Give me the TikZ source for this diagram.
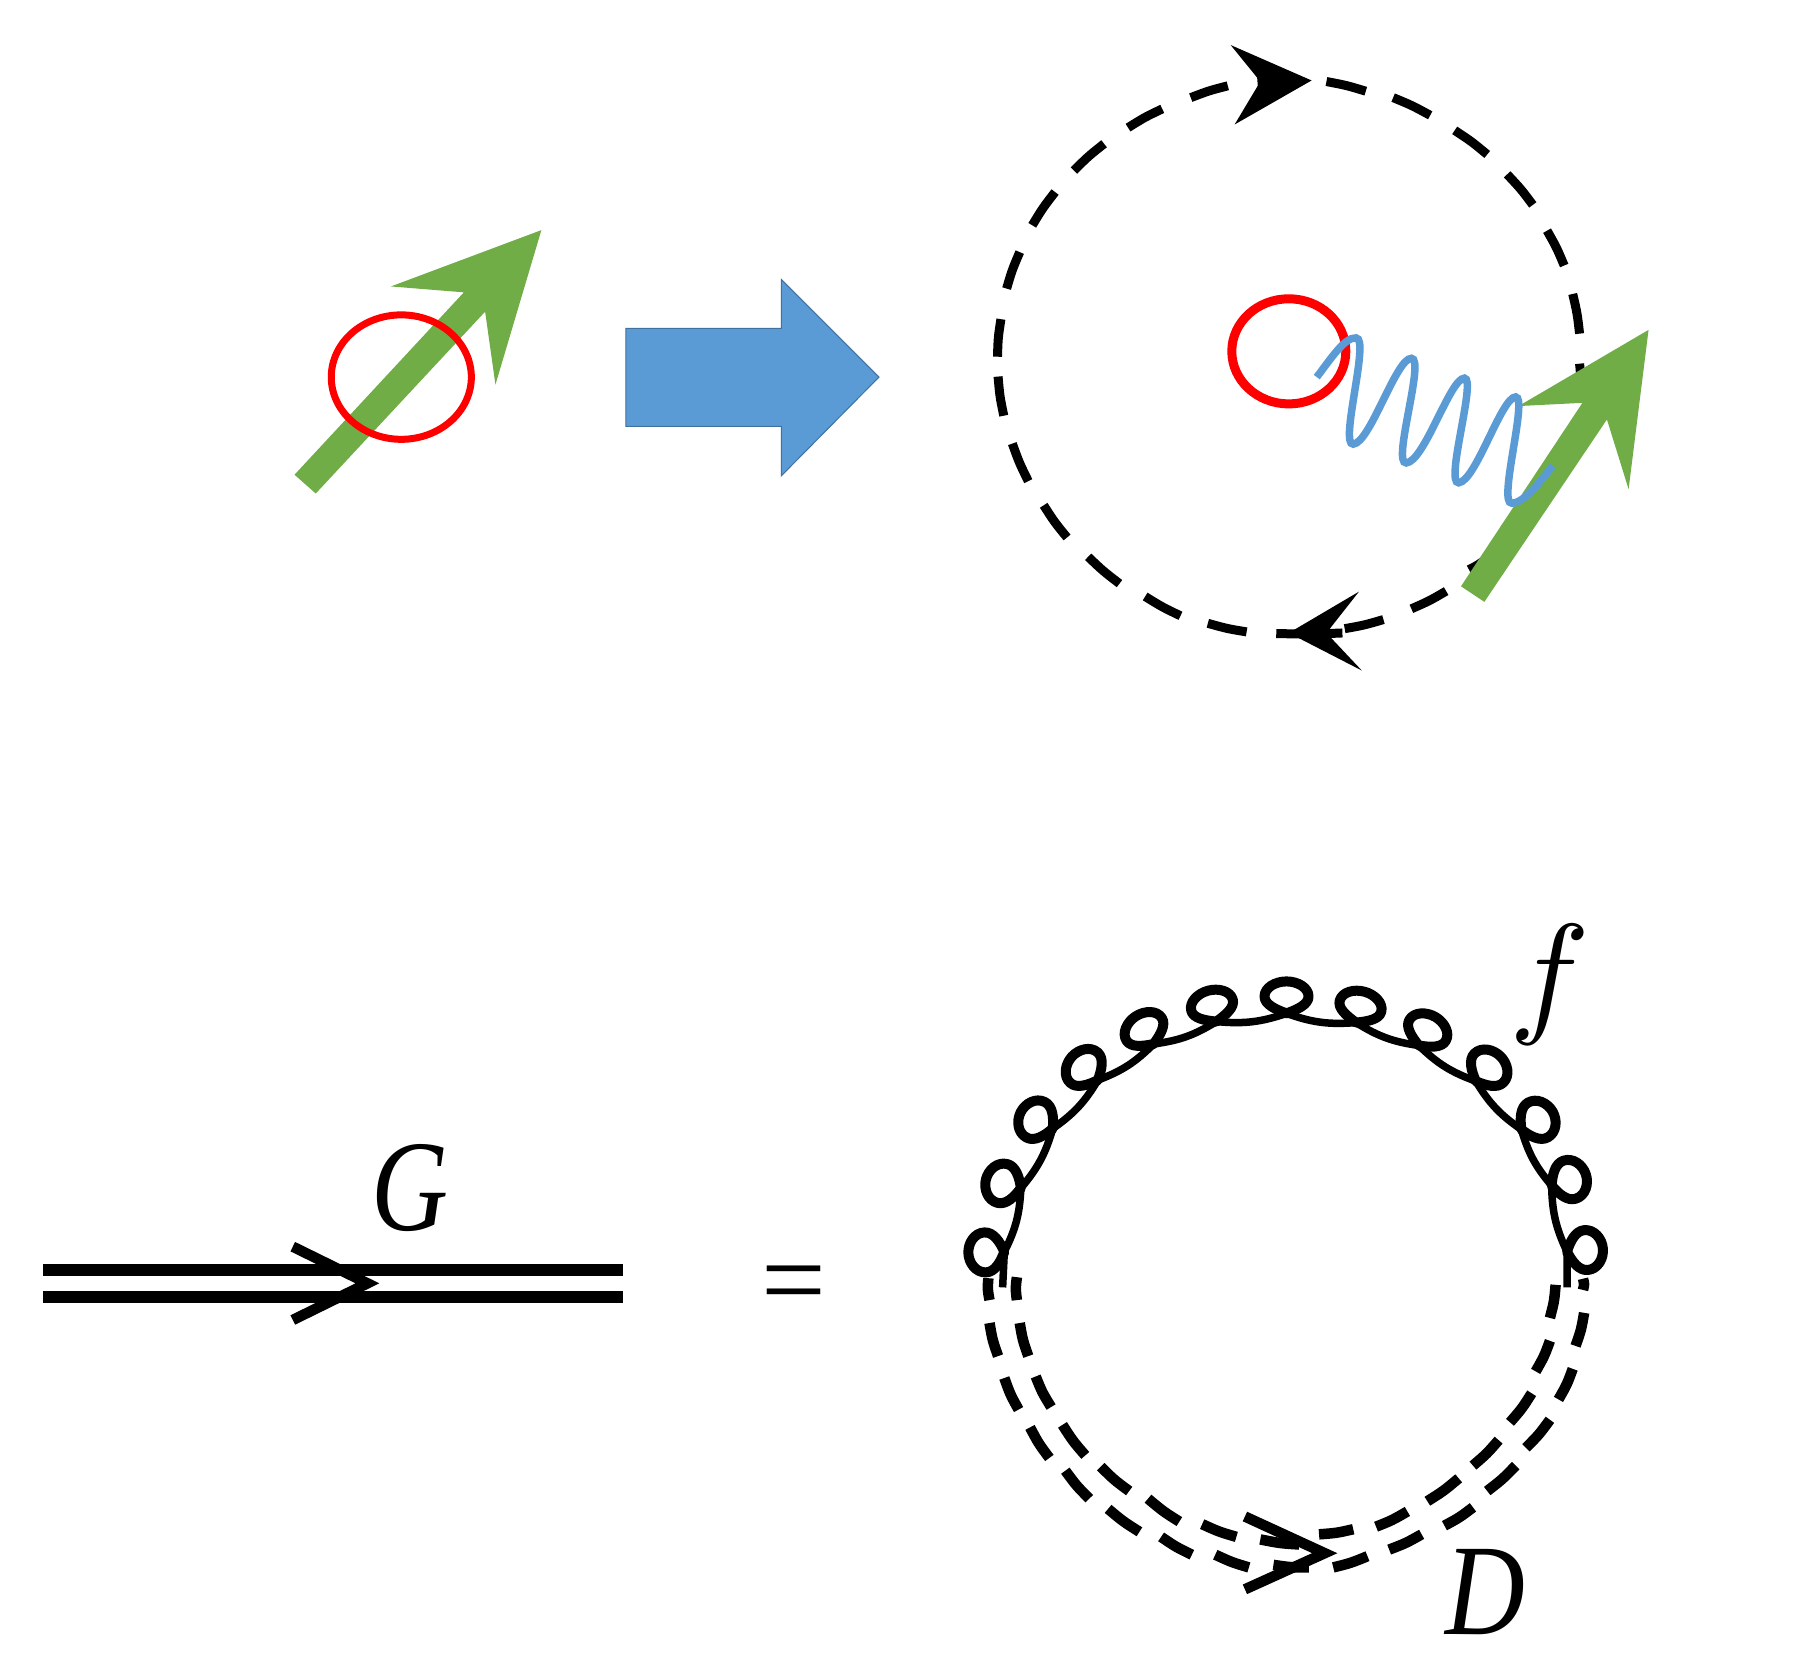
\documentclass[tikz,border=0pt]{standalone}
\usepackage{fontspec}
\setmainfont{Liberation Serif}
\definecolor{grn}{HTML}{70AD47}
\definecolor{blu}{HTML}{5B9BD5}
\definecolor{bluedge}{HTML}{41719C}
\tikzset{
  cropA/.style={shift={(0pt,0pt)},x=.5741pt,y=-.5364pt},
  cropB/.style={shift={(900pt,0pt)},x=.5701pt,y=-.5364pt},
  cropC/.style={shift={(900pt,-880pt)},x=.5701pt,y=-.5092pt},
  cropD/.style={shift={(0pt,-1100pt)},x=.5741pt,y=-.3333pt},
  dashbit/.style={line width=9pt,black},
  twobit/.style={line width=10.5pt,black},
  chev/.style={line width=10.5pt,black,miter limit=10},
  lbl/.style={inner sep=0pt,outer sep=0pt},
  gloop/.style={line width=10pt,black,line join=round},
  garc/.style={line width=7.5pt,black,line join=round},
}
% dash bulging away from centre (#1,#2) by control offset #3
\newcommand\bulgedash[8]{%
  \pgfmathsetmacro\mxx{(#5+#7)/2}\pgfmathsetmacro\myy{(#6+#8)/2}%
  \pgfmathsetmacro\dxx{\mxx-#1}\pgfmathsetmacro\dyy{\myy-#2}%
  \pgfmathsetmacro\lll{veclen(\dxx,\dyy)}%
  \draw[#4] (#5,#6) .. controls ({\mxx+#3*\dxx/\lll},{\myy+#3*\dyy/\lll}) .. (#7,#8);}
\begin{document}
\begin{tikzpicture}
\useasboundingbox (0pt,0pt) rectangle (1794pt,-1678pt);
\fill[white] (0pt,0pt) rectangle (1794pt,-1678pt);
% --- top left
\begin{scope}[cropA]
  \fill[grn] (513,885) -- (808,545) -- (681,534) -- (943,429) -- (863,717) -- (845,581) -- (550,920) -- cycle;
  \draw[red,line width=7pt] (699,703) ellipse [x radius=122,y radius=116];
  \draw[fill=blu,draw=bluedge,line width=1pt] (1090,612) -- (1361,612) -- (1361,521) -- (1531,703) -- (1361,887) -- (1361,795) -- (1090,795) -- cycle;
\end{scope}
% --- top right
\begin{scope}[cropB]
  \foreach \xa/\ya/\xb/\yb in {
    627/152/700/150, 575/160/510/182, 460/203/400/238, 358/268/305/318, 272/358/232/420,
    210/470/187/538, 177/595/171/665, 172/702/182/775, 197/827/225/897, 252/942/293/1002,
    330/1038/385/1088, 430/1112/492/1148, 540/1162/608/1178, 660/1181/776/1180, 780/1172/848/1155,
    897/1135/958/1102, 998/1062/1030/1040, 748/152/817/170, 865/182/930/215, 973/243/1030/288,
    1065/325/1110/382, 1135/430/1165/495, 1180/548/1192/622, 1192/678/1192/720}
    {\bulgedash{682}{665}{2}{dashbit}{\xa}{\ya}{\xb}{\yb}}
  \fill (722,150) -- (580,84) -- (632,152) -- (587,232) -- cycle;
  \fill (682,1180) -- (805,1103) -- (748,1180) -- (810,1250) -- cycle;
  \fill[grn] (984,1093) -- (1197,751) -- (1085,757) -- (1313,615) -- (1278,912) -- (1240,782) -- (1025,1122) -- cycle;
  \draw[red,line width=9pt] (682,655) ellipse [x radius=100,y radius=98];
  \draw[blu,line width=7.5pt] (731,703) .. controls (755,670) and (780,628) .. (800,630)
    .. controls (825,630) and (770,830) .. (795,828)
    .. controls (825,825) and (870,668) .. (897,668)
    .. controls (922,668) and (862,865) .. (888,863)
    .. controls (920,860) and (965,705) .. (990,705)
    .. controls (1012,705) and (955,902) .. (980,900)
    .. controls (1010,897) and (1055,740) .. (1080,740)
    .. controls (1102,740) and (1048,940) .. (1073,938)
    .. controls (1095,938) and (1125,895) .. (1145,868);
\end{scope}
% --- bottom left
\begin{scope}[cropD]
  \draw[line width=12pt] (75,510) -- (1085,510);
  \draw[line width=12pt] (75,590) -- (1085,590);
  \draw[chev] (510,440) -- (640,550) -- (510,660);
\end{scope}
\node[lbl] (G) at (410pt,-1188pt) {\scalebox{.82}[1]{\fontsize{130pt}{130pt}\selectfont\itshape G}};
\node[lbl] (eq) at (794pt,-1292pt) {\fontsize{115pt}{115pt}\selectfont =};
% --- bottom right
\begin{scope}[cropC]
  \draw[garc] (180,800) -- (183,730) to[bend right=12] (212,605) to[bend right=12] (268,488)
    to[bend right=12] (347,393) to[bend right=12] (445,322) to[bend right=12] (555,278)
    to[bend right=12] (678,262) to[bend right=12] (800,280) to[bend right=12] (910,325)
    to[bend right=12] (1010,395) to[bend right=12] (1090,490) to[bend right=12] (1143,600)
    to[bend right=12] (1170,730) -- (1170,800);
  \foreach \px/\py/\r/\a/\h in {
    183/730/92/20/36, 212/605/76/20/36, 268/488/63/20/36, 347/393/48/20.5/35, 445/322/33/21/33,
    555/278/15/21.5/32, 678/262/0/22/32, 800/280/-15/21.5/32, 910/325/-30/21/33, 1010/395/-45/20.5/35,
    1090/490/-60/20/36, 1143/600/-72/20/36, 1170/730/-85/20/36}
  {
    \draw[gloop,shift={(\px,\py)},rotate=\r] (0pt,0pt)
      .. controls (-.5*\a pt,4pt) and (-\a pt,.28*\h pt) .. (-\a pt,.53*\h pt)
      .. controls (-\a pt,.81*\h pt) and (-.5*\a pt,\h pt) .. (0pt,\h pt)
      .. controls (.5*\a pt,\h pt) and (\a pt,.81*\h pt) .. (\a pt,.53*\h pt)
      .. controls (\a pt,.28*\h pt) and (.5*\a pt,4pt) .. (0pt,0pt) -- cycle;
  }
  \foreach \xa/\ya/\xb/\yb in {
    155/782/157/825, 157/870/172/935, 183/978/208/1040, 228/1075/262/1135, 290/1160/332/1215,
    365/1235/420/1280, 458/1290/512/1325, 553/1325/612/1350, 655/1345/717/1350, 760/1350/820/1328,
    858/1315/915/1285, 955/1268/1005/1232, 1030/1200/1080/1150, 1098/1115/1140/1060,
    1155/1020/1180/960, 1185/915/1200/850, 1198/783/1198/805,
    205/780/205/825, 210/870/225/935, 238/975/265/1035, 285/1070/325/1130, 352/1152/402/1200,
    435/1215/490/1260, 530/1265/590/1290, 632/1295/700/1305, 735/1285/795/1275, 835/1270/890/1240,
    925/1220/980/1175, 1005/1150/1050/1100, 1070/1065/1108/1008, 1115/965/1140/905, 1140/860/1150/795}
    {\bulgedash{678}{780}{2.5}{twobit}{\xa}{\ya}{\xb}{\yb}}
  \draw[chev] (605,1250) -- (745,1322) -- (605,1393);
\end{scope}
\node[lbl] (f) at (1550pt,-985pt) {\scalebox{13.5}{$f$}};
\node[lbl] (D) at (1485pt,-1592pt) {\scalebox{.85}[1]{\fontsize{130pt}{130pt}\selectfont\itshape D}};
\end{tikzpicture}
\end{document}
